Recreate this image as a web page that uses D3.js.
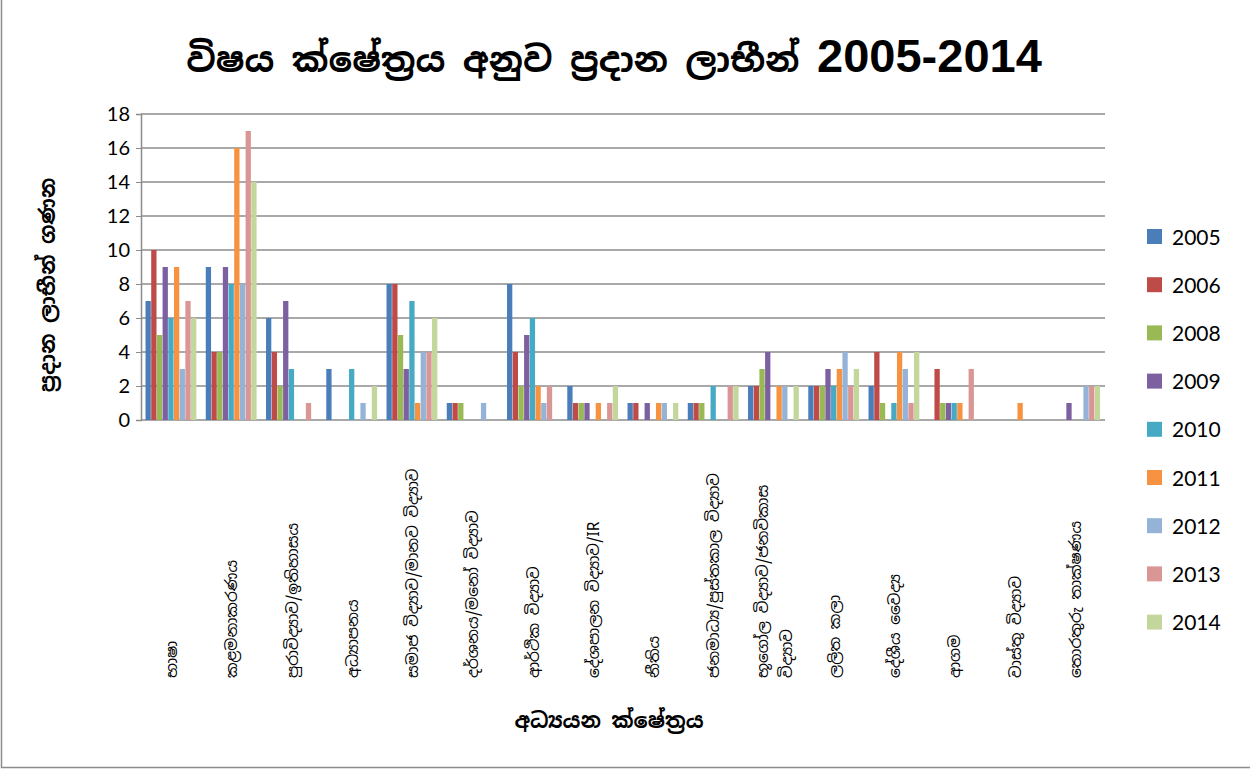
<!DOCTYPE html>
<html lang="si">
<head>
<meta charset="utf-8">
<title>විෂය ක්ෂේත්‍රය අනුව ප්‍රදාන ලාභීන්</title>
<script src="https://d3js.org/d3.v7.min.js"></script>
<style>
  body { margin: 0; background: #fff; }
  text { font-family: "Noto Sans Sinhala", "Iskoola Pota", Lato, "Liberation Sans", sans-serif; }
</style>
</head>
<body>
<script>
const categories = [
  "භාෂා",
  "කළමනාකරණය",
  "පුරාවිද්‍යාව/ඉතිහාසය",
  "අධ්‍යාපනය",
  "සමාජ විද්‍යාව/මානව විද්‍යාව",
  "දර්ශනය/මනෝ විද්‍යාව",
  "ආර්ථික විද්‍යාව",
  "දේශපාලන විද්‍යාව/IR",
  "නීතිය",
  "ජනමාධ්‍ය/පුස්තකාල විද්‍යාව",
  "භූගෝල විද්‍යාව/ජනවිකාස විද්‍යාව",
  "ලලිත කලා",
  "දේශීය වෛද්‍ය",
  "ආගම",
  "වාස්තු විද්‍යාව",
  "තොරතුරු තාක්ෂණය"
]
const series = ["2005", "2006", "2008", "2009", "2010", "2011", "2012", "2013", "2014"]
const v2005 = [7, 9, 6, 3, 8, 1, 8, 2, 1, 1, 2, 2, 2, 0, 0, 0]
const v2006 = [10, 4, 4, 0, 8, 1, 4, 1, 1, 1, 2, 2, 4, 3, 0, 0]
const v2008 = [5, 4, 2, 0, 5, 1, 2, 1, 0, 1, 3, 2, 1, 1, 0, 0]
const v2009 = [9, 9, 7, 0, 3, 0, 5, 1, 1, 0, 4, 3, 0, 1, 0, 1]
const v2010 = [6, 8, 3, 3, 7, 0, 6, 0, 0, 2, 0, 2, 1, 1, 0, 0]
const v2011 = [9, 16, 0, 0, 1, 0, 2, 1, 1, 0, 2, 3, 4, 1, 1, 0]
const v2012 = [3, 8, 0, 1, 4, 1, 1, 0, 1, 0, 2, 4, 3, 0, 0, 2]
const v2013 = [7, 17, 1, 0, 4, 0, 2, 1, 0, 2, 0, 2, 1, 3, 0, 2]
const v2014 = [6, 14, 0, 2, 6, 0, 0, 2, 1, 2, 2, 3, 4, 0, 0, 2]
const values = [v2005, v2006, v2008, v2009, v2010, v2011, v2012, v2013, v2014]
const yTicks = [0, 2, 4, 6, 8, 10, 12, 14, 16, 18]
const colors = ["#4a7ebb", "#be4b48", "#98b954", "#7d60a0", "#46aac5", "#f69240", "#95b3d7", "#d99694", "#c3d69b"]

const W = 1250, H = 770
const plotL = 141, plotR = 1105, plotT = 114, plotB = 420

const svg = d3.select("body").append("svg").attr("width", W).attr("height", H)

// outer chart border
svg.append("rect").attr("x", 1.5).attr("y", -2).attr("width", W + 4).attr("height", H - 0.5)
   .attr("fill", "none").attr("stroke", "#8c8c8c").attr("stroke-width", 1.5)

const x = d3.scaleBand().domain(categories).range([plotL, plotR]).paddingInner(0.15).paddingOuter(0.075)
const xs = d3.scaleBand().domain(series).range([0, x.bandwidth()])
const y = d3.scaleLinear().domain([0, 18]).range([plotB, plotT])

// gridlines
svg.append("g").selectAll("line").data(yTicks).join("line")
   .attr("x1", plotL).attr("x2", plotR)
   .attr("y1", d => y(d)).attr("y2", d => y(d))
   .attr("stroke", "#8c8c8c").attr("stroke-width", 1.5)

// y axis
const yAxis = svg.append("g").attr("transform", `translate(${plotL},0)`)
   .call(d3.axisLeft(y).tickValues(yTicks).tickSize(5).tickPadding(6))
yAxis.select(".domain").attr("stroke", "#8c8c8c").attr("stroke-width", 1.5)
yAxis.selectAll(".tick line").attr("stroke", "#8c8c8c")
yAxis.selectAll(".tick text").attr("font-size", 20).attr("fill", "#000")
   .style("font-family", "Lato, 'Liberation Sans', sans-serif")

// bars
const groups = svg.append("g").selectAll("g").data(categories).join("g")
   .attr("transform", d => `translate(${x(d)},0)`)
groups.selectAll("rect")
   .data((c, i) => series.map((s, j) => ({ s: s, v: values[j][i], c: colors[j] })))
   .join("rect")
   .attr("x", d => xs(d.s))
   .attr("width", xs.bandwidth() - 0.4)
   .attr("y", d => y(d.v))
   .attr("height", d => y(0) - y(d.v))
   .attr("fill", d => d.c)

// category labels (rotated)
const wrapAt = { "භූගෝල විද්‍යාව/ජනවිකාස විද්‍යාව": ["භූගෝල විද්‍යාව/ජනවිකාස", "විද්‍යාව"] }
categories.forEach(c => {
  const lines = wrapAt[c] || [c]
  const cx = x(c) + x.bandwidth() / 2
  const t = svg.append("text")
     .attr("transform", `translate(${cx - (lines.length - 1) * 12 + 6},678) rotate(-90)`)
     .attr("font-size", 15.5).attr("fill", "#000")
  lines.forEach((l, i) => t.append("tspan").attr("x", 0).attr("y", i * 24).text(l))
})

// legend
const legend = svg.append("g").selectAll("g").data(series).join("g")
   .attr("transform", (d, i) => `translate(1147,${237 + i * 48.2})`)
legend.append("rect").attr("x", 0).attr("y", -8).attr("width", 15).attr("height", 15)
   .attr("fill", (d, i) => colors[i])
legend.append("text").attr("x", 25).attr("y", 7.5).text(d => d)
   .attr("font-size", 21).style("font-family", "Lato, 'Liberation Sans', sans-serif")

// titles
const title = svg.append("text").attr("x", 614).attr("y", 72).attr("text-anchor", "middle")
   .attr("font-weight", "bold")
title.append("tspan").attr("font-size", 35).text("විෂය ක්ෂේත්‍රය අනුව ප්‍රදාන ලාභීන් ")
title.append("tspan").attr("font-size", 47).style("font-family", "'Liberation Sans', Arial, sans-serif")
   .text("2005-2014")

svg.append("text").attr("transform", "translate(55,285) rotate(-90)").attr("text-anchor", "middle")
   .attr("font-size", 21).attr("font-weight", "bold").text("ප්‍රදාන ලාභීන් ගණන")

svg.append("text").attr("x", 609).attr("y", 728).attr("text-anchor", "middle")
   .attr("font-size", 21).attr("font-weight", "bold").text("අධ්‍යයන ක්ෂේත්‍රය")
</script>
</body>
</html>
